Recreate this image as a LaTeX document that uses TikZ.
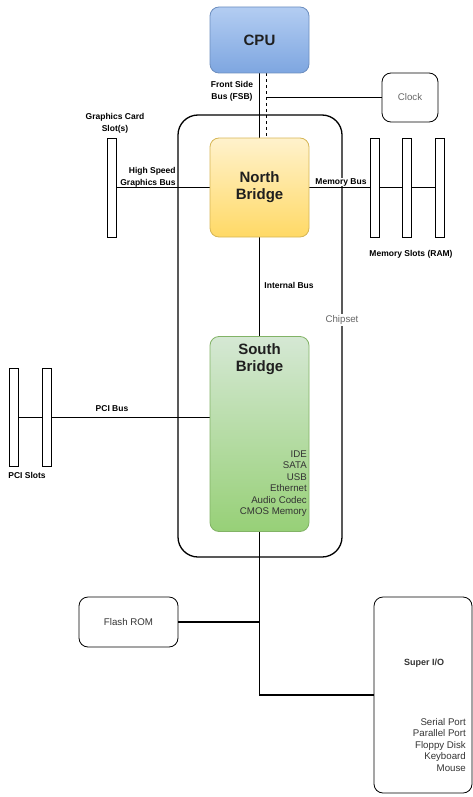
\documentclass[tikz,border=0pt]{standalone}
\usepackage{fontspec}
\setmainfont{Liberation Sans}
\usetikzlibrary{positioning,backgrounds,calc}

\definecolor{txtgrey}{HTML}{333333}
\definecolor{lblgrey}{HTML}{666666}
\definecolor{cputop}{HTML}{B3CDF2}
\definecolor{cpubot}{HTML}{7EA6E0}
\definecolor{cpuline}{HTML}{6C8EBF}
\definecolor{nbtop}{HTML}{FFF2CC}
\definecolor{nbbot}{HTML}{FFD966}
\definecolor{nbline}{HTML}{D6B656}
\definecolor{sbtop}{HTML}{D5E8D4}
\definecolor{sbbot}{HTML}{97D077}
\definecolor{sbline}{HTML}{82B366}

\begin{document}
\begin{tikzpicture}[x=1pt,y=-1pt,
  blk/.style={draw,rounded corners=9pt,line width=0.8pt,inner sep=0pt,align=center},
  chipfont/.style={font=\fontsize{15}{17}\selectfont\bfseries,text=txtgrey!60!black,align=center},
  chip/.style={blk,chipfont},
  slot/.style={draw,fill=white,minimum width=9pt,inner sep=0pt,line width=0.7pt},
  buslbl/.style={font=\fontsize{8.5}{12}\selectfont\bfseries,inner sep=0.5pt,align=center},
  plain/.style={font=\fontsize{9.7}{11.5}\selectfont,text=txtgrey,inner sep=0pt,align=right},
  wire/.style={line width=0.8pt},
  heavy/.style={line width=1.8pt}]
  \useasboundingbox (0,0) rectangle (473,797);

  % main chips
  \node[chip,minimum width=99pt,minimum height=66pt,draw=cpuline,
        top color=cputop,bottom color=cpubot] (cpu) at (259.5,40) {CPU};
  \node[chip,minimum width=99pt,minimum height=99pt,draw=nbline,
        top color=nbtop,bottom color=nbbot] (nb) at (259.5,187.5) {North\\Bridge};
  \node[chip,minimum width=99pt,minimum height=195pt,draw=sbline,
        top color=sbtop,bottom color=sbbot] (sb) at (259.5,434) {};
  \node[chipfont,anchor=north,inner sep=0pt] (sbname) at (259.5,343) {South\\Bridge};
  \node[plain,anchor=east] (sblist) at (307,483.5)
    {IDE\\SATA\\USB\\Ethernet\\Audio Codec\\CMOS Memory};

  % chipset frame
  \node[draw,rounded corners=20pt,line width=1.3pt,minimum width=164pt,minimum height=442pt] (chipset) at (260,336) {};
  \node[plain,text=lblgrey,fill=white,inner sep=1.5pt] (chiplbl) at (342,320) {Chipset};

  % other parts
  \node[blk,minimum width=56pt,minimum height=49pt,font=\fontsize{9.7}{11}\selectfont,text=lblgrey] (clock) at (410,97.5) {Clock};
  \node[blk,minimum width=99pt,minimum height=50pt,font=\fontsize{9.7}{11}\selectfont,text=txtgrey] (flash) at (128.5,622) {Flash ROM};
  \node[blk,minimum width=98pt,minimum height=196pt] (sio) at (423,695) {};
  \node[buslbl,font=\fontsize{9}{11}\selectfont\bfseries,text=txtgrey] (sioname) at (424,663) {Super I/O};
  \node[plain,anchor=east] (siolist) at (466,745)
    {Serial Port\\Parallel Port\\Floppy Disk\\Keyboard\\Mouse};

  % slots
  \node[slot,minimum height=99pt] (gs) at (112,187.5) {};
  \node[slot,minimum height=99pt] (ms1) at (374.5,187.5) {};
  \node[slot,minimum height=99pt] (ms2) at (407,187.5) {};
  \node[slot,minimum height=99pt] (ms3) at (439.5,187.5) {};
  \node[slot,minimum height=98pt] (ps1) at (14,417) {};
  \node[slot,minimum height=98pt] (ps2) at (46.5,417) {};

  % bus labels
  \node[buslbl] (fsblbl) at (232,91) {Front Side\\Bus (FSB)};
  \node[buslbl] (gcslbl) at (115,123) {Graphics Card\\Slot(s)};
  \node[buslbl,fill=white,align=right] (hsglbl) at (148,177) {High Speed\\Graphics Bus};
  \node[buslbl,fill=white] (mblbl) at (341,182) {Memory Bus};
  \node[buslbl] (mslbl) at (411,254) {Memory Slots (RAM)};
  \node[buslbl] (iblbl) at (289,285) {Internal Bus};
  \node[buslbl] (pcilbl) at (112,409) {PCI Bus};
  \node[buslbl] (pcslbl) at (27,475) {PCI Slots};

  \begin{pgfonlayer}{background}
    \draw[wire] (cpu.south) -- (nb.north);
    \draw[wire,dashed] ([xshift=7pt]cpu.south) -- ([xshift=7pt]nb.north);
    \draw[wire] ([xshift=7pt]cpu.south |- clock.west) -- (clock.west);
    \draw[wire] (gs) -- (nb.west);
    \draw[wire] (nb.east) -- (ms3);
    \draw[wire] (nb.south) -- (sb.north);
    \draw[wire] (ps1) -- (ps1 -| sb.west);
    \draw[heavy] (sb.south) |- (sio.west);
    \draw[heavy] (flash.east) -- (flash.east -| sb.south);
  \end{pgfonlayer}
\end{tikzpicture}
\end{document}
